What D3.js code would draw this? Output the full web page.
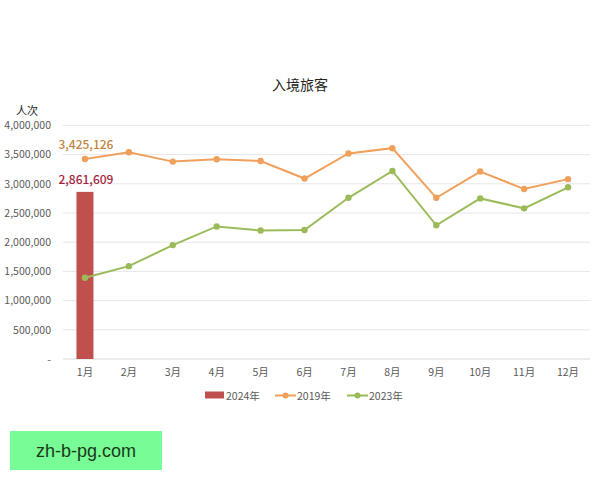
<!DOCTYPE html>
<html><head><meta charset="utf-8">
<script src="https://cdn.jsdelivr.net/npm/d3@7"></script>
<style>body{margin:0;background:#fff;font-family:"Noto Sans CJK SC","Microsoft YaHei",sans-serif;}</style>
</head><body><svg id="c" width="600" height="480"></svg>
<script>
const months = ["1月","2月","3月","4月","5月","6月","7月","8月","9月","10月","11月","12月"];
const values2024 = [2861609];
const values2019 = [3425126,3540000,3380000,3420000,3390000,3090000,3520000,3610000,2760000,3210000,2910000,3080000];
const values2023 = [1390000,1590000,1950000,2270000,2200000,2210000,2760000,3220000,2290000,2750000,2580000,2940000];
const yTicks = [0,500000,1000000,1500000,2000000,2500000,3000000,3500000,4000000];
const seriesNames = ["2024年","2019年","2023年"];
const colors = {bar:"#C0504D", o:"#F0A05A", g:"#9BBB59"};

const svg = d3.select("#c");
const x = d3.scaleBand().domain(months).range([63,590]);
const y = d3.scaleLinear().domain([0,4000000]).range([359,125.4]);
const fmt = d3.format(",");

svg.append("g").selectAll("line").data(yTicks).join("line")
  .attr("x1",63).attr("x2",590).attr("y1",d=>y(d)).attr("y2",d=>y(d))
  .attr("stroke",d=>d===0?"#d9d9d9":"#e6e6e6").attr("stroke-width",1);

const ya = svg.append("g").attr("transform","translate(51,0)")
  .call(d3.axisLeft(y).tickValues(yTicks).tickSize(0).tickPadding(0).tickFormat(d=>d===0?"-":fmt(d)));
ya.select(".domain").remove();
ya.selectAll("text").attr("font-size",10.5).attr("fill","#595959").attr("font-family","Noto Sans CJK SC, sans-serif");

const xa = svg.append("g").attr("transform","translate(0,359)")
  .call(d3.axisBottom(x).tickSize(0).tickPadding(10));
xa.select(".domain").remove();
xa.selectAll("text").attr("font-size",10.5).attr("fill","#595959").attr("font-family","Noto Sans CJK SC, sans-serif");

svg.append("g").selectAll("rect").data(values2024).join("rect")
  .attr("x",(d,i)=>x(months[i])+x.bandwidth()/2-8.5).attr("width",17)
  .attr("y",d=>y(d)).attr("height",d=>y(0)-y(d)).attr("fill",colors.bar);

const line = d3.line().x((d,i)=>x(months[i])+x.bandwidth()/2).y(d=>y(d));
[[values2019,colors.o],[values2023,colors.g]].forEach(([vals,c])=>{
  svg.append("path").datum(vals).attr("d",line).attr("fill","none").attr("stroke",c).attr("stroke-width",2);
  svg.append("g").selectAll("circle").data(vals).join("circle")
    .attr("cx",(d,i)=>x(months[i])+x.bandwidth()/2).attr("cy",d=>y(d)).attr("r",3.2).attr("fill",c);
});

svg.append("text").attr("x",x(months[0])+x.bandwidth()/2+1).attr("y",y(values2019[0])-10)
  .attr("text-anchor","middle").attr("font-size",12).attr("font-weight",500).attr("fill","#C08540")
  .text(fmt(values2019[0]));
svg.append("text").attr("x",x(months[0])+x.bandwidth()/2+1).attr("y",y(values2024[0])-8)
  .attr("text-anchor","middle").attr("font-size",12).attr("font-weight",500).attr("fill","#A3233A")
  .text(fmt(values2024[0]));

svg.append("text").attr("x",300).attr("y",90).attr("text-anchor","middle").attr("font-size",14).attr("fill","#222").text("入境旅客");
svg.append("text").attr("x",16).attr("y",115).attr("font-size",11).attr("fill","#222").text("人次");

const lg = svg.append("g").attr("font-size",10.5).attr("fill","#595959");
lg.append("rect").attr("x",205).attr("y",391.5).attr("width",19).attr("height",7).attr("fill",colors.bar);
lg.append("text").attr("x",226).attr("y",399.5).attr("fill","#595959").text(seriesNames[0]);
[[275,colors.o,seriesNames[1],297],[347,colors.g,seriesNames[2],369]].forEach(([lx,c,t,tx])=>{
  lg.append("line").attr("x1",lx).attr("x2",lx+21).attr("y1",395.5).attr("y2",395.5).attr("stroke",c).attr("stroke-width",2);
  lg.append("circle").attr("cx",lx+10.5).attr("cy",395.5).attr("r",3).attr("fill",c);
  lg.append("text").attr("x",tx).attr("y",399.5).attr("fill","#595959").text(t);
});

svg.append("rect").attr("x",10).attr("y",431).attr("width",152).attr("height",39).attr("fill","#78FC96");
svg.append("text").attr("x",86).attr("y",457).attr("text-anchor","middle").attr("font-size",18)
  .attr("font-family","Liberation Sans, Arial, sans-serif").attr("fill","#1a3a1a").text("zh-b-pg.com");
</script></body></html>
